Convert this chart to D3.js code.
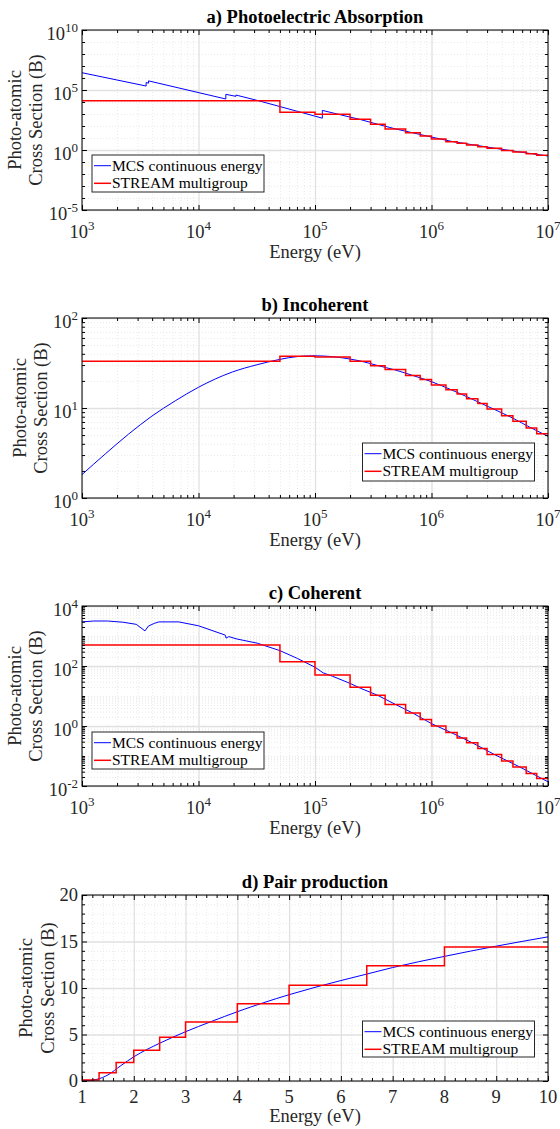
<!DOCTYPE html>
<html lang="en">
<head>
<meta charset="utf-8">
<title>Photo-atomic cross sections</title>
<script src="https://d3js.org/d3.v7.min.js"></script>
<style>
  body { margin: 0; background: #fff; }
  svg { display: block; }
  .grid line { stroke: #e1e1e1; stroke-width: 1.3; }
  .minorgrid line { stroke: #e4e4e4; stroke-width: 0.8; stroke-dasharray: 1,2; }
  .grid path, .minorgrid path, .ticks path { display: none; }
  .ticks line { stroke: #000; }
</style>
</head>
<body>
<script>
// group boundaries (eV) of the multigroup library
var groupBounds = [1e3, 5e4, 1e5, 2e5, 3e5, 4e5, 6e5, 8e5, 1e6, 1.33e6, 1.66e6, 2e6, 2.5e6, 3e6, 4e6, 5e6, 6.5e6, 8e6, 1e7];
var pairBounds = [1, 1.33, 1.66, 2, 2.5, 3, 4, 5, 6.5, 8, 10];

// a) photoelectric, continuous energy (edges are doubled points)
var peEnergy = [1000, 3552, 3552, 3728, 3728, 17166, 17166, 20948, 20948, 32600, 50000, 70700, 100000, 115606, 115606,
                158000, 245000, 346000, 490000, 692000, 1e6, 1.48e6, 2.24e6, 3.47e6, 5.75e6, 1e7];
var peSigma = [2.75e6, 2.14e5, 4.17e5, 3.7e5, 5.75e5, 1.78e4, 4.37e4, 2.95e4, 3.8e4, 1.29e4, 4170, 1660, 661, 447, 2000,
               955, 347, 138, 57.5, 26.9, 12.0, 5.25, 2.75, 1.41, 0.676, 0.316];
var peGroup = [1.29e4, 1380, 933, 363, 138, 56.2, 27.5, 14.8, 8.3, 4.9, 3.63, 2.63, 1.91, 1.38, 0.93, 0.68, 0.49, 0.36];

// b) incoherent
var incohEnergy = [1e3, 1585, 2512, 3981, 6310, 1e4, 19500, 31600, 5e4, 70800, 1e5, 1.41e5, 2e5, 2.45e5, 3.46e5,
                   4.9e5, 6.9e5, 1e6, 1.5e6, 2e6, 3e6, 5e6, 7e6, 1e7];
var incohSigma = [1.82, 3.09, 5.13, 8.13, 12.0, 17.0, 25.1, 30.2, 34.7, 37.3, 38.0, 37.2, 35.0, 33.3, 29.6,
                  26.4, 23.0, 19.6, 15.8, 13.4, 10.5, 7.7, 6.1, 4.85];
var incohGroup = [33.1, 37.5, 36.9, 33.1, 29.5, 26.7, 22.9, 20.7, 18.0, 16.0, 14.3, 12.7, 11.2, 9.77, 8.22, 7.11, 6.0, 5.19];

// c) coherent
var cohEnergy = [1000, 1259, 1660, 2240, 2920, 3470, 3715, 4170, 4570, 6760, 1e4, 16980, 17260, 18200, 21400, 32000,
                 50100, 70800, 1e5, 117500, 141000, 2e5, 245000, 346000, 490000, 692000, 1e6, 1.48e6, 2.24e6, 3.47e6, 5.75e6, 1e7];
var cohSigma = [2950, 3160, 3160, 2880, 2450, 1480, 2140, 2630, 2950, 2950, 2190, 1070, 851, 955, 794, 575,
                324, 178, 91, 59, 45.7, 26.3, 18.2, 10.5, 5.25, 2.69, 1.2, 0.60, 0.275, 0.112, 0.0427, 0.0138];
var cohGroup = [501, 138, 50.1, 19.5, 10.5, 5.25, 2.69, 1.66, 1.0, 0.603, 0.398, 0.275, 0.178, 0.112, 0.0676, 0.0427, 0.0263, 0.0178];

// d) pair production (x axis 1..10)
var pairEnergy = [1.0, 1.1, 1.29, 1.5, 1.75, 2.0, 2.5, 3.0, 3.5, 4.0, 5.0, 6.0, 6.5, 7.0, 8.0, 9.0, 10.0];
var pairSigma = [0.02, 0.04, 0.18, 0.65, 1.65, 2.6, 4.06, 5.3, 6.4, 7.45, 9.28, 10.8, 11.5, 12.2, 13.4, 14.5, 15.5];
var pairGroup = [0.1, 0.9, 2.0, 3.3, 4.7, 6.35, 8.3, 10.3, 12.4, 14.4];

var legendNames = ["MCS continuous energy", "STREAM multigroup"];

function decades(a, b) { var o = []; for (var k = a; k <= b; k++) o.push(Math.pow(10, k)); return o; }
function logMinor(a, b, from) { var o = []; for (var k = a; k < b; k++) for (var m = from; m <= 9; m++) o.push(m * Math.pow(10, k)); return o; }
function expOf(v) { return Math.round(Math.log10(v)); }
function range(a, b, s) { return d3.range(Math.round((b - a) / s) + 1).map(i => +(a + i * s).toFixed(4)); }

var L = 82, R = 548;
var SERIF = "Liberation Serif";

var panels = [
  {title: "a) Photoelectric Absorption", top: 30, bottom: 210, xlog: true, ylog: true,
   xDomain: [1e3, 1e7], yDomain: [1e-5, 1e10],
   xMajor: decades(3, 7), xMinor: logMinor(3, 7, 2),
   yMajor: [1e-5, 1, 1e5, 1e10], yMinor: decades(-4, 9).filter(v => expOf(v) % 5 !== 0),
   E: peEnergy, S: peSigma, bounds: groupBounds, group: peGroup, smooth: false,
   legend: {x: 92, y: 155, w: 172, h: 37}, ylab: [21, 41.7]},
  {title: "b) Incoherent", top: 318, bottom: 498, xlog: true, ylog: true,
   xDomain: [1e3, 1e7], yDomain: [1, 100],
   xMajor: decades(3, 7), xMinor: logMinor(3, 7, 2),
   yMajor: [1, 10, 100], yMinor: logMinor(0, 2, 2),
   E: incohEnergy, S: incohSigma, bounds: groupBounds, group: incohGroup, smooth: true,
   legend: {x: 362.5, y: 443, w: 172, h: 38}, ylab: [25.6, 47]},
  {title: "c) Coherent", top: 606, bottom: 786, xlog: true, ylog: true,
   xDomain: [1e3, 1e7], yDomain: [1e-2, 1e4],
   xMajor: decades(3, 7), xMinor: logMinor(3, 7, 2),
   yMajor: [1e-2, 1, 1e2, 1e4], yMinor: logMinor(-2, 4, 1).filter(v => !(Math.abs(v / Math.pow(10, expOf(v)) - 1) < 1e-9 && expOf(v) % 2 === 0)),
   E: cohEnergy, S: cohSigma, bounds: groupBounds, group: cohGroup, smooth: false,
   legend: {x: 92, y: 732, w: 172, h: 37}, ylab: [21, 41.7]},
  {title: "d) Pair production", top: 895, bottom: 1081, xlog: false, ylog: false,
   xDomain: [1, 10], yDomain: [0, 20],
   xMajor: range(1, 10, 1), xMinor: range(1, 10, 0.2).filter(v => Math.abs(v - Math.round(v)) > 1e-6),
   yMajor: range(0, 20, 5), yMinor: range(0, 20, 1).filter(v => v % 5 !== 0),
   E: pairEnergy, S: pairSigma, bounds: pairBounds, group: pairGroup, smooth: true,
   legend: {x: 362.5, y: 1021, w: 172, h: 36}, ylab: [31.7, 53.5]}
];

var svg = d3.select("body").append("svg")
    .attr("width", 560)
    .attr("height", 1129);

svg.append("rect").attr("width", 560).attr("height", 1129).attr("fill", "#fff");

// text helper: Times-like font set inline
function txt(sel, size, weight, fill) {
  return sel.append("text")
      .style("font-family", SERIF)
      .style("font-size", size + "px")
      .style("font-weight", weight || "normal")
      .style("fill", fill || "#262626");
}

function powLabel(text, v) {
  text.append("tspan").text("10");
  text.append("tspan").attr("dy", -8).style("font-size", "13px").text(expOf(v));
}

panels.forEach(function (p, i) {
  var w = R - L, h = p.bottom - p.top;
  var x = (p.xlog ? d3.scaleLog() : d3.scaleLinear()).domain(p.xDomain).range([L, R]);
  var y = (p.ylog ? d3.scaleLog() : d3.scaleLinear()).domain(p.yDomain).range([p.bottom, p.top]);
  var g = svg.append("g");

  // grids
  g.append("g").attr("class", "minorgrid").attr("transform", `translate(0,${p.bottom})`)
    .call(d3.axisBottom(x).tickValues(p.xMinor).tickSize(-h).tickFormat(""));
  g.append("g").attr("class", "minorgrid").attr("transform", `translate(${L},0)`)
    .call(d3.axisLeft(y).tickValues(p.yMinor).tickSize(-w).tickFormat(""));
  g.append("g").attr("class", "grid").attr("transform", `translate(0,${p.bottom})`)
    .call(d3.axisBottom(x).tickValues(p.xMajor).tickSize(-h).tickFormat(""));
  g.append("g").attr("class", "grid").attr("transform", `translate(${L},0)`)
    .call(d3.axisLeft(y).tickValues(p.yMajor).tickSize(-w).tickFormat(""));

  svg.append("clipPath").attr("id", "clip" + i)
    .append("rect").attr("x", L).attr("y", p.top).attr("width", w).attr("height", h);

  // continuous curve
  var pts = p.E.map((e, j) => [e, p.S[j]]);
  var line = d3.line().x(d => x(d[0])).y(d => y(d[1]))
      .curve(p.smooth ? d3.curveMonotoneX : d3.curveLinear);
  g.append("path").datum(pts)
      .attr("clip-path", `url(#clip${i})`)
      .attr("d", line)
      .attr("fill", "none").attr("stroke", "#0000ff").attr("stroke-width", 1);

  // multigroup steps
  var steps = p.group.map((v, j) => [p.bounds[j], v]);
  steps.push([p.bounds[p.bounds.length - 1], p.group[p.group.length - 1]]);
  var stepLine = d3.line().x(d => x(d[0])).y(d => y(d[1])).curve(d3.curveStepAfter);
  g.append("path").datum(steps)
      .attr("clip-path", `url(#clip${i})`)
      .attr("d", stepLine)
      .attr("fill", "none").attr("stroke", "#ff0000").attr("stroke-width", 1.5);

  // box
  g.append("rect").attr("x", L).attr("y", p.top).attr("width", w).attr("height", h)
      .attr("fill", "none").attr("stroke", "#000").attr("stroke-width", 1);

  // inward ticks on all sides
  [[p.xMajor, 5], [p.xMinor, 3]].forEach(function (t) {
    g.append("g").attr("class", "ticks").attr("transform", `translate(0,${p.bottom})`)
      .call(d3.axisBottom(x).tickValues(t[0]).tickSize(-t[1]).tickFormat(""));
    g.append("g").attr("class", "ticks").attr("transform", `translate(0,${p.top})`)
      .call(d3.axisTop(x).tickValues(t[0]).tickSize(-t[1]).tickFormat(""));
  });
  [[p.yMajor, 5], [p.yMinor, 3]].forEach(function (t) {
    g.append("g").attr("class", "ticks").attr("transform", `translate(${L},0)`)
      .call(d3.axisLeft(y).tickValues(t[0]).tickSize(-t[1]).tickFormat(""));
    g.append("g").attr("class", "ticks").attr("transform", `translate(${R},0)`)
      .call(d3.axisRight(y).tickValues(t[0]).tickSize(-t[1]).tickFormat(""));
  });

  // tick labels
  p.xMajor.forEach(function (d) {
    var t = txt(g, 18.5)
        .attr("x", x(d))
        .attr("y", p.bottom + (p.xlog ? 28 : 22))
        .attr("text-anchor", "middle");
    if (p.xlog) powLabel(t, d); else t.text(d);
  });
  p.yMajor.forEach(function (d) {
    var t = txt(g, 18.5)
        .attr("x", L - 4)
        .attr("y", y(d) + (p.ylog ? 10 : 6))
        .attr("text-anchor", "end");
    if (p.ylog) powLabel(t, d); else t.text(d);
  });

  // axis labels and title
  txt(g, 18.5).attr("x", (L + R) / 2).attr("y", p.bottom + (p.xlog ? 47.5 : 41))
      .attr("text-anchor", "middle").text("Energy (eV)");
  ["Photo-atomic", "Cross Section (B)"].forEach(function (s, k) {
    txt(g, 18.5)
      .attr("transform", `translate(${p.ylab[k]},${(p.top + p.bottom) / 2}) rotate(-90)`)
      .attr("text-anchor", "middle").text(s);
  });
  txt(g, 18.5, "bold", "#000").attr("x", (L + R) / 2).attr("y", p.top - 7)
      .attr("text-anchor", "middle").text(p.title);

  // legend
  var lg = g.append("g").attr("transform", `translate(${p.legend.x},${p.legend.y})`);
  lg.append("rect").attr("width", p.legend.w).attr("height", p.legend.h)
      .attr("fill", "#fff").attr("stroke", "#262626").attr("stroke-width", 1);
  ["#0000ff", "#ff0000"].forEach(function (c, k) {
    var cy = 10.7 + k * 17.6;
    lg.append("line").attr("x1", 2).attr("x2", 19).attr("y1", cy).attr("y2", cy)
      .attr("stroke", c).attr("stroke-width", k ? 1.5 : 1);
    txt(lg, 15.5, "normal", "#000").attr("x", 20).attr("y", cy + 5).text(legendNames[k]);
  });
});
</script>
</body>
</html>
